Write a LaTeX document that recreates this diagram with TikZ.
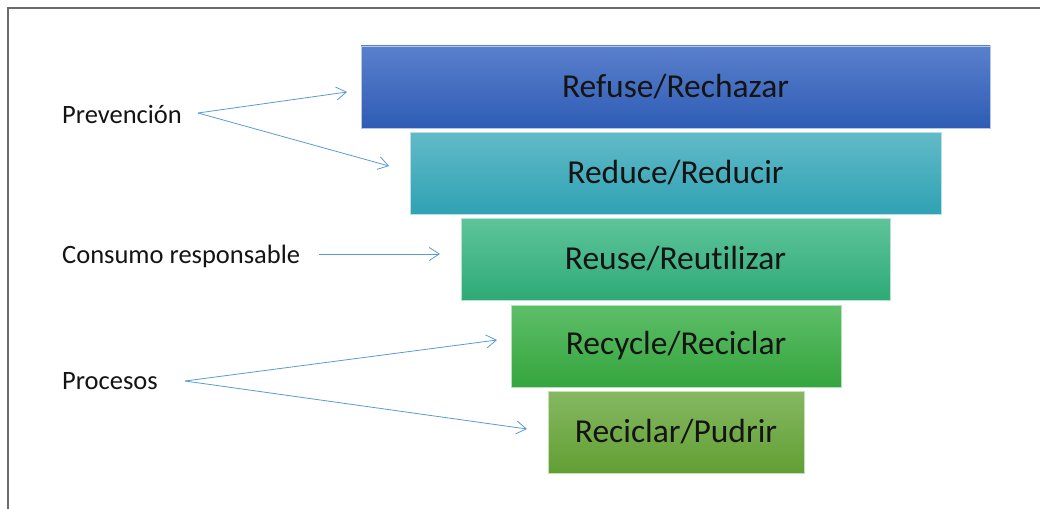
\documentclass[tikz,border=0pt]{standalone}
\usepackage{fontspec}
\setmainfont{Carlito}[Ligatures={NoCommon,NoRare,NoContextual},RawFeature={-liga;-clig;-dlig}]
\usetikzlibrary{arrows.meta}
\definecolor{arrowblue}{HTML}{5B9BD5}
\definecolor{frame}{HTML}{6E6A6C}
\definecolor{txt}{HTML}{141414}
\definecolor{aT}{HTML}{5A80CC}\definecolor{aM}{HTML}{4472C4}\definecolor{aB}{HTML}{2E5CB5}
\definecolor{bT}{HTML}{62BAC8}\definecolor{bM}{HTML}{41B5C7}\definecolor{bB}{HTML}{2FA2B3}
\definecolor{cT}{HTML}{5EC49A}\definecolor{cM}{HTML}{3DBB88}\definecolor{cB}{HTML}{2EAA77}
\definecolor{dT}{HTML}{5DBE68}\definecolor{dM}{HTML}{42B44C}\definecolor{dB}{HTML}{35A53E}
\definecolor{eT}{HTML}{86B862}\definecolor{eM}{HTML}{72AD45}\definecolor{eB}{HTML}{619F33}
\begin{document}
\begin{tikzpicture}[x=1pt,y=-1pt,
  tier/.style={anchor=north west, inner sep=0pt, outer sep=0pt, minimum height=82pt,
    font=\fontsize{33.5}{40}\selectfont, text=txt, line width=0.9pt},
  lbl/.style={anchor=base west, inner sep=0pt, font=\fontsize{26.5}{32}\selectfont, text=txt},
  conn/.style={draw=arrowblue, line width=0.8pt, -{Straight Barb[length=10pt,width=13pt]}},
  framestyle/.style={draw=frame, line width=2.2pt}]
\useasboundingbox (0,0) rectangle (1040,508);
\fill[white] (0,0) rectangle (1040,508);
\draw[framestyle] (8,510) -- (8,8) -- (1042,8);

\node[tier, minimum width=629pt, top color=aT, middle color=aM, bottom color=aB] (refuse) at (361,46) {Refuse/Rechazar};
\draw[aT!45!white, line width=0.9pt] (refuse.north west) rectangle (refuse.south east);
\node[tier, minimum width=531pt, top color=bT, middle color=bM, bottom color=bB] (reduce) at (410,132) {Reduce/Reducir};
\draw[bT!45!white, line width=0.9pt] (reduce.north west) rectangle (reduce.south east);
\node[tier, minimum width=429pt, top color=cT, middle color=cM, bottom color=cB] (reuse) at (461,218) {Reuse/Reutilizar};
\draw[cT!45!white, line width=0.9pt] (reuse.north west) rectangle (reuse.south east);
\node[tier, minimum width=330pt, top color=dT, middle color=dM, bottom color=dB] (recycle) at (511,305) {Recycle/Reciclar};
\draw[dT!45!white, line width=0.9pt] (recycle.north west) rectangle (recycle.south east);
\node[tier, minimum width=256pt, top color=eT, middle color=eM, bottom color=eB] (rot) at (548,391) {Reciclar/Pudrir};
\draw[eT!45!white, line width=0.9pt] (rot.north west) rectangle (rot.south east);

\node[lbl] (prev) at (62,123) {Prevención};
\node[lbl] (cons) at (62,263.5) {Consumo responsable};
\node[lbl] (proc) at (62,389.5) {Procesos};

\coordinate (prevS) at (198,113);
\coordinate (prevT1) at (347,92);
\coordinate (prevT2) at (389,166);
\coordinate (consS) at (319,254);
\coordinate (consT) at (440,254);
\coordinate (procS) at (185,381);
\coordinate (procT1) at (497,340);
\coordinate (procT2) at (527,429);

\draw[conn] (prevS) -- (prevT1);
\draw[conn] (prevS) -- (prevT2);
\draw[conn] (consS) -- (consT);
\draw[conn] (procS) -- (procT1);
\draw[conn] (procS) -- (procT2);
\end{tikzpicture}
\end{document}
